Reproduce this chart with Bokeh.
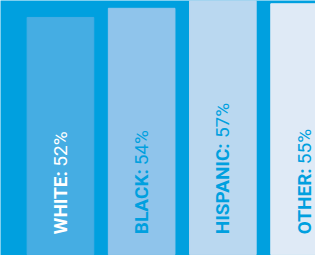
from bokeh.plotting import figure
from bokeh.models import ColumnDataSource, Range1d
from bokeh.core.properties import value
from bokeh.embed import file_html
from bokeh.resources import INLINE

# ---- data ----
categories = ["WHITE", "BLACK", "HISPANIC", "OTHER"]
percent = [52, 54, 57, 55]
bar_colors = ["#45ade3", "#8fc4eb", "#bad8f0", "#dfeaf6"]
text_colors = ["#ffffff", "#00a0df", "#00a0df", "#00a0df"]

BG = "#00a0df"
FONT = "Roboto"
FS = 19

# approximate advance widths (em) of Roboto Bold, used to place the % text after the bold label
BOLD_W = {"W": 0.887, "H": 0.709, "I": 0.289, "T": 0.609, "E": 0.560, "B": 0.633,
          "L": 0.539, "A": 0.661, "C": 0.651, "K": 0.637, "S": 0.612, "P": 0.637,
          "N": 0.709, "O": 0.676, "R": 0.628, ":": 0.267, " ": 0.237}

xs = list(range(len(categories)))
bold_labels = [c + ": " for c in categories]
pct_labels = [f"{v}%" for v in percent]
offsets = [-sum(BOLD_W.get(ch, 0.6) for ch in s) * FS for s in bold_labels]

# reference geometry: bars 85.33 px apart, 70 px wide, 4.846 px per percent point
W, H = 315, 255
pitch = 85.33
x_lo, x_hi = -63 / pitch, (331 - 63) / pitch
y_ppu = 4.846
y_lo, y_hi = -1 / y_ppu, 270 / y_ppu
label_y = 21.6 / y_ppu

src = ColumnDataSource(dict(x=xs, top=percent, color=bar_colors, tcolor=text_colors,
                            bold=bold_labels, pct=pct_labels, off=offsets,
                            ly=[label_y] * len(xs)))

p = figure(width=W, height=H, output_backend="svg", toolbar_location=None,
           x_range=Range1d(x_lo, x_hi), y_range=Range1d(y_lo, y_hi),
           min_border=0, background_fill_color=BG, border_fill_color=BG,
           outline_line_color=None)
p.axis.visible = False
p.grid.visible = False

p.vbar(x="x", top="top", bottom=0, width=70 / pitch, color="color", source=src)

p.text(x="x", y="ly", text="bold", angle=1.5708, text_align="left", text_baseline="middle",
       text_font=value(FONT), text_font_style="bold", text_font_size=f"{FS}px",
       text_color="tcolor", source=src)
p.text(x="x", y="ly", text="pct", angle=1.5708, text_align="left", text_baseline="middle",
       y_offset="off", text_font=value(FONT), text_font_style="normal",
       text_font_size=f"{FS}px", text_color="tcolor", source=src)

open("out.html", "w").write(file_html(p, INLINE))
